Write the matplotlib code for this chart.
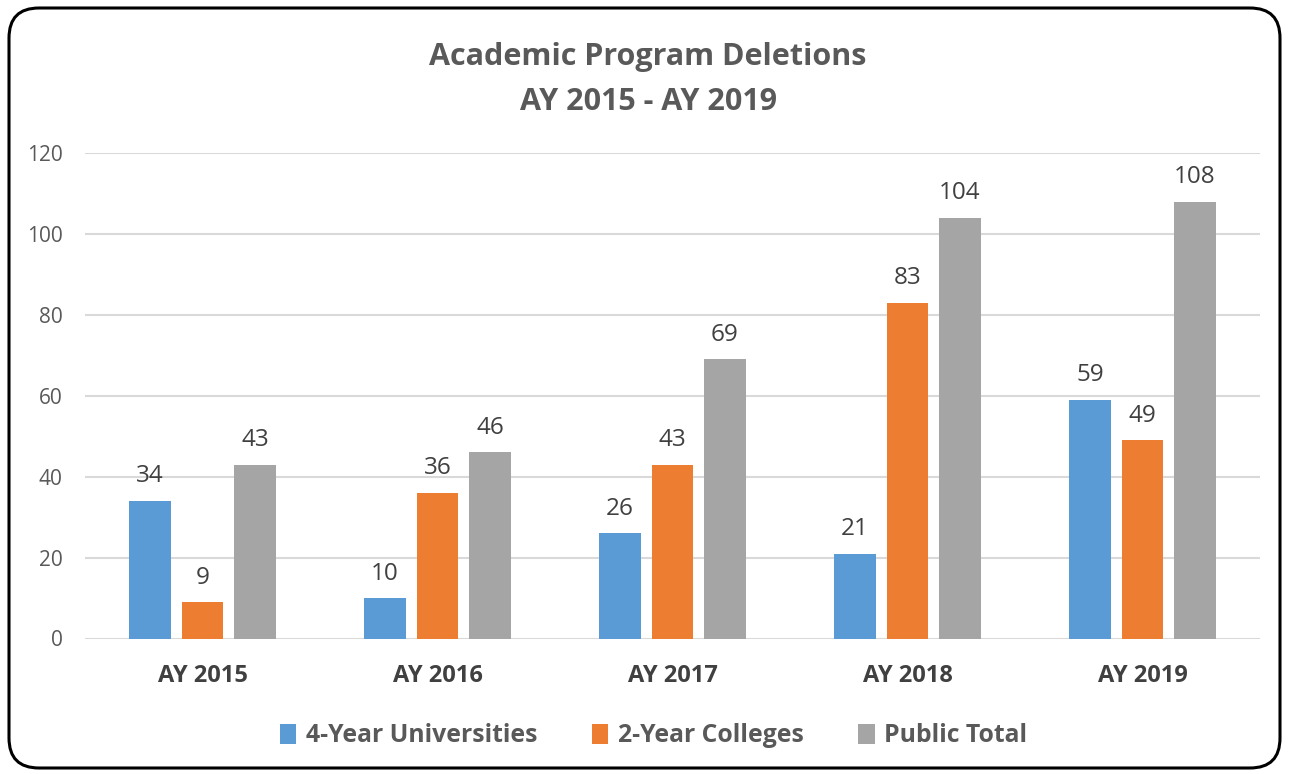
import matplotlib
matplotlib.use("Agg")
import matplotlib.pyplot as plt
from matplotlib.patches import FancyBboxPatch
import numpy as np

categories = ["AY 2015", "AY 2016", "AY 2017", "AY 2018", "AY 2019"]
series_names = ["4-Year Universities", "2-Year Colleges", "Public Total"]
univ = [34, 10, 26, 21, 59]
colleges = [9, 36, 43, 83, 49]
total = [43, 46, 69, 104, 108]
yticks = [0, 20, 40, 60, 80, 100, 120]
title1 = "Academic Program Deletions"
title2 = "AY 2015 - AY 2019"

plt.rcParams['font.family'] = ['Open Sans', 'DejaVu Sans']
W, H = 1289, 774
fig = plt.figure(figsize=(W / 100, H / 100), dpi=100)

# rounded border
border = FancyBboxPatch((0.09, 0.06), 12.89 - 0.18, 7.74 - 0.14,
                        boxstyle="round,pad=0,rounding_size=0.3",
                        transform=fig.dpi_scale_trans, fill=False,
                        edgecolor='black', linewidth=2.2)
fig.patches.append(border)

ax = fig.add_axes([85 / W, (H - 638.5) / H, 1175 / W, 485.5 / H])
x = np.arange(len(categories))
w = 0.1745
off = 0.2234
colors = ['#5B9BD5', '#ED7D31', '#A5A5A5']
for i, (vals, name, c) in enumerate(zip([univ, colleges, total], series_names, colors)):
    bars = ax.bar(x + (i - 1) * off, vals, w, color=c, label=name, zorder=3)
    ax.bar_label(bars, padding=9, fontsize=17.5, color='#404040')

ax.set_xlim(-0.5, 4.5)
ax.set_ylim(0, 120)
ax.set_yticks(yticks)
ax.grid(axis='y', color='#D9D9D9', lw=1.5, zorder=0)
for s in ax.spines.values():
    s.set_visible(False)
ax.tick_params(length=0)
ax.tick_params(axis='y', labelsize=15, labelcolor='#595959', pad=16)
ax.set_xticks(x)
ax.set_xticklabels(categories, fontsize=17, fontweight='bold', color='#404040')
ax.tick_params(axis='x', pad=18.5)

fig.text(648 / W, 1 - 57 / H, title1, ha='center', va='center', fontsize=22,
         fontweight='bold', color='#595959')
fig.text(648 / W, 1 - 102 / H, title2, ha='center', va='center', fontsize=22,
         fontweight='bold', color='#595959')

leg = fig.legend(loc='center', bbox_to_anchor=(654 / W, 1 - 736 / H), ncol=3,
                 frameon=False, handlelength=0.65, handleheight=0.85,
                 handletextpad=0.4, columnspacing=2.2,
                 prop={'size': 17.8, 'weight': 'bold'})
for t in leg.get_texts():
    t.set_color('#595959')

fig.savefig("out.png", dpi=100)
